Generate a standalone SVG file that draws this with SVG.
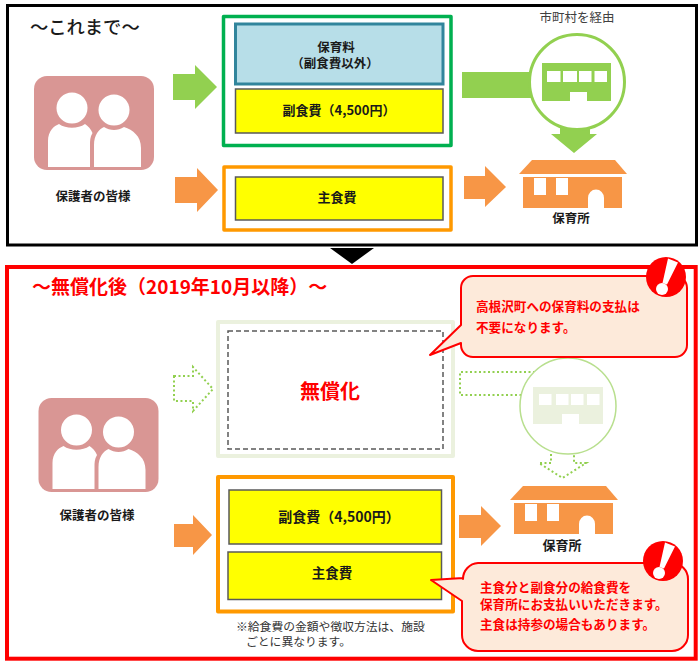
<svg xmlns="http://www.w3.org/2000/svg" xmlns:xlink="http://www.w3.org/1999/xlink" width="700" height="664" viewBox="0 0 700 664">
<style>
text{font-family:"Noto Sans CJK JP","Noto Sans",sans-serif;fill:#1a1a1a}
.b{font-weight:700}
.m{text-anchor:middle}
.r{fill:#f00;font-weight:700}
.yl{fill:#ff0;stroke:#595959;stroke-width:1.5}
.or{fill:#fff;stroke:#f90;stroke-width:3.5;stroke-linejoin:round}
.oa{fill:#f79646}
.ga{fill:#92d050}
.dot{fill:none;stroke:#92d050;stroke-width:2;stroke-dasharray:2 2.5}
.call{fill:#fdeada;stroke:#f00;stroke-width:2;stroke-linejoin:round}
.lab{font-size:12.5px;font-weight:700}
.callt{font-size:12.6px;fill:#f00;font-weight:700}
</style>
<defs>
<g id="people">
<rect x="34" y="76" width="120" height="94" rx="13" fill="#d99694"/>
<circle cx="72" cy="108" r="15.5" fill="#fff"/>
<circle cx="114" cy="110" r="15.5" fill="#fff"/>
<path d="M48 167V141C48 131 54 126 59 124C66 129 78 129 85 124C88 126 91 129 92.500 133C90 137 90 141 90 145V167Z" fill="#fff"/>
<path d="M94 167V145C94 135 99 129 104 127C110 131 118 131 124 127C133 130 141 136 141 148V167Z" fill="#fff"/>
</g>
<g id="house">
<path d="M532 160H615L627 174H519Z" class="oa"/>
<path d="M523 177H622V208H604V198A8 8.500 0 0 0 588 198V208H523Z" class="oa"/>
<rect x="534" y="178" width="12" height="17" fill="#fff"/>
<rect x="556" y="178" width="12" height="17" fill="#fff"/>
</g>
<g id="bang">
<circle r="20" fill="#f00"/>
<path d="M2 -18.500L12 -14.500L1 7.500L-3.500 6Z" fill="#fff"/>
<circle cx="-4" cy="12" r="6" fill="#fff"/>
</g>
</defs>
<rect width="700" height="664" fill="#fff"/>

<g id="frame-before"><rect x="7.500" y="5.500" width="689" height="239.500" fill="#fff" stroke="#000" stroke-width="3"/></g>
<g id="frame-after"><rect x="7" y="267" width="688.700" height="391.700" fill="#fff" stroke="#f00" stroke-width="4"/></g>

<g id="connectors">
<polygon class="ga" points="173,74 195,74 195,65 217,87 195,109 195,100 173,100"/>
<polygon class="oa" points="175,177 197,177 197,168 218,190 197,212 197,203 175,203"/>
<rect class="ga" x="462" y="72" width="76" height="26"/>
<polygon class="ga" points="560,120 590,120 590,134 597,134 574,153 551,134 560,134"/>
<polygon class="oa" points="464,176 485,176 485,166 506,187 485,207 485,199 464,199"/>
<polygon points="330,248 374,248 352,264" fill="#000"/>
<polygon class="dot" points="174,376 193,376 193,367 213,389 193,411 193,401 174,401"/>
<path class="dot" d="M535 372H460V395H522"/>
<path class="dot" d="M551 454V463H539L562.500 478L586 463H574V454"/>
<polygon class="oa" points="174,524 193,524 193,515 212,535 193,555 193,547 174,547"/>
<polygon class="oa" points="459,515 481,515 481,506 501,526 481,546 481,538 459,538"/>
</g>

<g id="title-before"><text x="30" y="34" font-size="18.300" font-weight="500">～これまで～</text></g>

<g id="guardians-before">
<use href="#people"/>
<text class="lab m" x="93" y="201">保護者の皆様</text>
</g>

<g id="fee-group">
<rect x="223.500" y="16.500" width="227.500" height="129" fill="#fff" stroke="#00b050" stroke-width="3.500" stroke-linejoin="round"/>
</g>
<g id="hoikuryo">
<rect x="235.500" y="24" width="207.500" height="60" fill="#b7dee8" stroke="#31859c" stroke-width="3"/>
<text class="b m" x="336" y="52" font-size="12.500">保育料</text>
<text class="b m" x="335" y="68" font-size="12.500">（副食費以外）</text>
</g>
<g id="fukushoku-before">
<rect class="yl" x="235.500" y="89" width="207.500" height="44"/>
<text class="b m" x="339" y="115" font-size="13">副食費（4,500円）</text>
</g>
<g id="shushoku-group-before"><rect class="or" x="224" y="167" width="227" height="63"/></g>
<g id="shushoku-before">
<rect class="yl" x="235.500" y="177" width="207.500" height="43"/>
<text class="b m" x="337" y="202" font-size="13">主食費</text>
</g>

<g id="municipality-before">
<text class="m" x="577" y="22" font-size="12.500" style="fill:#404040">市町村を経由</text>
<circle cx="577" cy="82" r="47.500" fill="#fff" stroke="#92d050" stroke-width="3"/>
<rect class="ga" x="542" y="63" width="69" height="38"/>
<g fill="#fff">
<rect x="547" y="71" width="13.500" height="11"/><rect x="563" y="71" width="14" height="11"/><rect x="579" y="71" width="12.500" height="11"/><rect x="594.500" y="71" width="12.500" height="11"/><rect x="570" y="92" width="17" height="9"/>
</g>
</g>

<g id="nursery-before">
<use href="#house"/>
<text class="lab m" x="571" y="223">保育所</text>
</g>

<g id="title-after"><text class="r" x="32" y="294" font-size="19">～無償化後（2019年10月以降）～</text></g>

<g id="free-box">
<rect x="218" y="322" width="235" height="134" fill="#fff" stroke="#ebf1de" stroke-width="4" stroke-linejoin="round"/>
<rect x="228" y="331" width="215" height="118" fill="#fff" stroke="#595959" stroke-width="1.500" stroke-dasharray="5 3"/>
<text class="r m" x="330" y="399" font-size="20">無償化</text>
</g>

<g id="municipality-after">
<circle cx="568" cy="406" r="48" fill="#fff" stroke="#b8df8e" stroke-width="1.500"/>
<rect x="533" y="387" width="70" height="37" fill="#ebf1de"/>
<g fill="#fff">
<rect x="539" y="394" width="12.500" height="11"/><rect x="556" y="394" width="12.500" height="11"/><rect x="571" y="394" width="12.500" height="11"/><rect x="587" y="394" width="12.500" height="11"/><rect x="562" y="414" width="17" height="10"/>
</g>
</g>

<g id="guardians-after">
<use href="#people" transform="translate(4.500 322)"/>
<text class="lab m" x="97" y="520">保護者の皆様</text>
</g>

<g id="fee-group-after"><rect class="or" x="218" y="477" width="235" height="134.500" style="stroke-width:4"/></g>
<g id="fukushoku-after">
<rect class="yl" x="229" y="490" width="212.500" height="54"/>
<text class="b m" x="339" y="522" font-size="14">副食費（4,500円）</text>
</g>
<g id="shushoku-after">
<rect class="yl" x="228" y="552" width="213.500" height="47.500"/>
<text class="b m" x="332" y="578" font-size="13.500">主食費</text>
</g>

<g id="note">
<text x="236" y="631" font-size="11.800" style="fill:#333">※給食費の金額や徴収方法は、施設</text>
<text x="246" y="646" font-size="11.800" style="fill:#333">ごとに異なります。</text>
</g>

<g id="nursery-after">
<use href="#house" transform="translate(-9 326)"/>
<text class="m" x="562" y="550" font-size="13" font-weight="700">保育所</text>
</g>

<g id="callout-top">
<path class="call" d="M473 276H675A12 12 0 0 1 687 288V345A12 12 0 0 1 675 357H473A12 12 0 0 1 461 345V343L430 355L461 325V288A12 12 0 0 1 473 276Z"/>
<text class="callt" x="476" y="311">高根沢町への保育料の支払は</text>
<text class="callt" x="476" y="332">不要になります。</text>
<use href="#bang" transform="translate(666 277)"/>
</g>

<g id="callout-bottom">
<path class="call" d="M478 563H672A16 16 0 0 1 688 579V635A16 16 0 0 1 672 651H478A16 16 0 0 1 462 635V601L431 580L463 578V579A16 16 0 0 1 478 563Z"/>
<text class="callt" x="480" y="592">主食分と副食分の給食費を</text>
<text class="callt" x="480" y="609">保育所にお支払いいただきます。</text>
<text class="callt" x="480" y="629">主食は持参の場合もあります。</text>
<use href="#bang" transform="translate(663 561)"/>
</g>
</svg>
